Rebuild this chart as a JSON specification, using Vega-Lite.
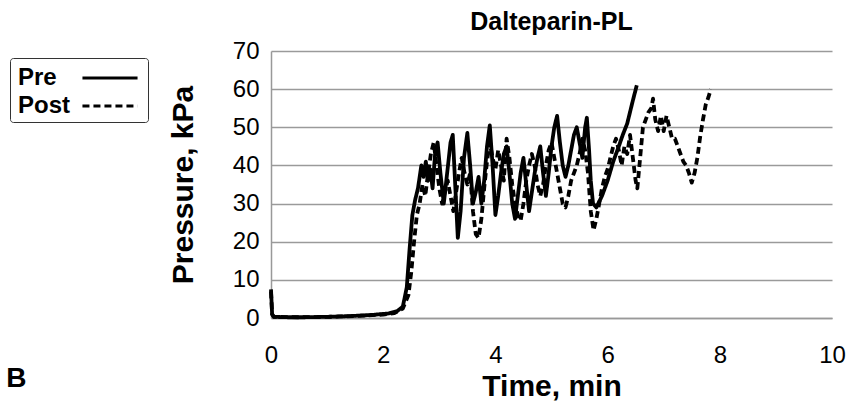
{
  "$schema": "https://vega.github.io/schema/vega-lite/v6.json",
  "autosize": {"type": "none"},
  "padding": {"left": 271, "top": 51, "right": 28, "bottom": 85},
  "width": 561,
  "height": 267,
  "background": "white",
  "config": {
    "font": "Liberation Sans",
    "view": {"stroke": null},
    "axis": {"labelFont": "Liberation Sans", "titleFont": "Liberation Sans", "labelColor": "#000", "titleColor": "#000"}
  },
  "title": {"text": "Dalteparin-PL", "font": "Liberation Sans", "fontSize": 25, "fontWeight": "bold", "color": "#000", "anchor": "middle", "offset": 4},
  "datasets": {
    "series": [
      {"t": 0, "p": 7.5, "s": "Pre"}, {"t": 0.02, "p": 1, "s": "Pre"}, {"t": 0.05, "p": 0.3, "s": "Pre"}, {"t": 0.3, "p": 0.2, "s": "Pre"}, {"t": 0.6, "p": 0.2, "s": "Pre"}, {"t": 1.0, "p": 0.3, "s": "Pre"}, {"t": 1.4, "p": 0.5, "s": "Pre"}, {"t": 1.8, "p": 0.8, "s": "Pre"}, {"t": 2.1, "p": 1.2, "s": "Pre"}, {"t": 2.25, "p": 1.8, "s": "Pre"}, {"t": 2.35, "p": 3, "s": "Pre"}, {"t": 2.42, "p": 8, "s": "Pre"}, {"t": 2.47, "p": 18, "s": "Pre"}, {"t": 2.52, "p": 27, "s": "Pre"}, {"t": 2.57, "p": 31, "s": "Pre"}, {"t": 2.62, "p": 34, "s": "Pre"}, {"t": 2.68, "p": 40, "s": "Pre"}, {"t": 2.72, "p": 37, "s": "Pre"}, {"t": 2.76, "p": 41, "s": "Pre"}, {"t": 2.8, "p": 36, "s": "Pre"}, {"t": 2.84, "p": 39, "s": "Pre"}, {"t": 2.88, "p": 34, "s": "Pre"}, {"t": 2.93, "p": 44, "s": "Pre"}, {"t": 2.97, "p": 46, "s": "Pre"}, {"t": 3.02, "p": 38, "s": "Pre"}, {"t": 3.08, "p": 30, "s": "Pre"}, {"t": 3.14, "p": 38, "s": "Pre"}, {"t": 3.2, "p": 46, "s": "Pre"}, {"t": 3.24, "p": 48, "s": "Pre"}, {"t": 3.28, "p": 36, "s": "Pre"}, {"t": 3.33, "p": 21, "s": "Pre"}, {"t": 3.38, "p": 28, "s": "Pre"}, {"t": 3.44, "p": 42, "s": "Pre"}, {"t": 3.5, "p": 48.5, "s": "Pre"}, {"t": 3.55, "p": 40, "s": "Pre"}, {"t": 3.6, "p": 30, "s": "Pre"}, {"t": 3.65, "p": 33, "s": "Pre"}, {"t": 3.7, "p": 37, "s": "Pre"}, {"t": 3.75, "p": 30, "s": "Pre"}, {"t": 3.8, "p": 36, "s": "Pre"}, {"t": 3.85, "p": 45, "s": "Pre"}, {"t": 3.9, "p": 50.5, "s": "Pre"}, {"t": 3.95, "p": 40, "s": "Pre"}, {"t": 4.0, "p": 27, "s": "Pre"}, {"t": 4.05, "p": 32, "s": "Pre"}, {"t": 4.1, "p": 38, "s": "Pre"}, {"t": 4.15, "p": 43, "s": "Pre"}, {"t": 4.2, "p": 45, "s": "Pre"}, {"t": 4.25, "p": 38, "s": "Pre"}, {"t": 4.3, "p": 30, "s": "Pre"}, {"t": 4.35, "p": 26, "s": "Pre"}, {"t": 4.4, "p": 32, "s": "Pre"}, {"t": 4.45, "p": 38, "s": "Pre"}, {"t": 4.5, "p": 42, "s": "Pre"}, {"t": 4.55, "p": 35, "s": "Pre"}, {"t": 4.6, "p": 28, "s": "Pre"}, {"t": 4.65, "p": 33, "s": "Pre"}, {"t": 4.7, "p": 38, "s": "Pre"}, {"t": 4.75, "p": 42, "s": "Pre"}, {"t": 4.8, "p": 45, "s": "Pre"}, {"t": 4.85, "p": 38, "s": "Pre"}, {"t": 4.9, "p": 32, "s": "Pre"}, {"t": 4.95, "p": 38, "s": "Pre"}, {"t": 5.0, "p": 45, "s": "Pre"}, {"t": 5.05, "p": 50, "s": "Pre"}, {"t": 5.1, "p": 53, "s": "Pre"}, {"t": 5.15, "p": 46, "s": "Pre"}, {"t": 5.2, "p": 40, "s": "Pre"}, {"t": 5.25, "p": 37, "s": "Pre"}, {"t": 5.3, "p": 40, "s": "Pre"}, {"t": 5.35, "p": 44, "s": "Pre"}, {"t": 5.4, "p": 48, "s": "Pre"}, {"t": 5.45, "p": 50, "s": "Pre"}, {"t": 5.5, "p": 46, "s": "Pre"}, {"t": 5.55, "p": 42, "s": "Pre"}, {"t": 5.6, "p": 50, "s": "Pre"}, {"t": 5.63, "p": 52.5, "s": "Pre"}, {"t": 5.67, "p": 44, "s": "Pre"}, {"t": 5.7, "p": 36, "s": "Pre"}, {"t": 5.74, "p": 30, "s": "Pre"}, {"t": 5.8, "p": 29, "s": "Pre"}, {"t": 5.9, "p": 32, "s": "Pre"}, {"t": 6.0, "p": 36, "s": "Pre"}, {"t": 6.1, "p": 41, "s": "Pre"}, {"t": 6.2, "p": 45, "s": "Pre"}, {"t": 6.27, "p": 48, "s": "Pre"}, {"t": 6.35, "p": 51, "s": "Pre"}, {"t": 6.4, "p": 54, "s": "Pre"}, {"t": 6.45, "p": 57, "s": "Pre"}, {"t": 6.52, "p": 61, "s": "Pre"},
      {"t": 0, "p": 7, "s": "Post"}, {"t": 0.02, "p": 1, "s": "Post"}, {"t": 0.05, "p": 0.3, "s": "Post"}, {"t": 0.5, "p": 0.2, "s": "Post"}, {"t": 1.0, "p": 0.3, "s": "Post"}, {"t": 1.5, "p": 0.5, "s": "Post"}, {"t": 2.0, "p": 0.9, "s": "Post"}, {"t": 2.2, "p": 1.3, "s": "Post"}, {"t": 2.35, "p": 2.5, "s": "Post"}, {"t": 2.45, "p": 6, "s": "Post"}, {"t": 2.5, "p": 12, "s": "Post"}, {"t": 2.55, "p": 20, "s": "Post"}, {"t": 2.6, "p": 27, "s": "Post"}, {"t": 2.65, "p": 30, "s": "Post"}, {"t": 2.7, "p": 35, "s": "Post"}, {"t": 2.75, "p": 32, "s": "Post"}, {"t": 2.8, "p": 38, "s": "Post"}, {"t": 2.85, "p": 43, "s": "Post"}, {"t": 2.9, "p": 46, "s": "Post"}, {"t": 2.95, "p": 40, "s": "Post"}, {"t": 3.0, "p": 34, "s": "Post"}, {"t": 3.05, "p": 30, "s": "Post"}, {"t": 3.1, "p": 33, "s": "Post"}, {"t": 3.15, "p": 36, "s": "Post"}, {"t": 3.2, "p": 32, "s": "Post"}, {"t": 3.25, "p": 28, "s": "Post"}, {"t": 3.3, "p": 33, "s": "Post"}, {"t": 3.35, "p": 38, "s": "Post"}, {"t": 3.4, "p": 42, "s": "Post"}, {"t": 3.45, "p": 38, "s": "Post"}, {"t": 3.5, "p": 35, "s": "Post"}, {"t": 3.55, "p": 38, "s": "Post"}, {"t": 3.6, "p": 28, "s": "Post"}, {"t": 3.65, "p": 22, "s": "Post"}, {"t": 3.7, "p": 21, "s": "Post"}, {"t": 3.75, "p": 26, "s": "Post"}, {"t": 3.8, "p": 34, "s": "Post"}, {"t": 3.85, "p": 41, "s": "Post"}, {"t": 3.9, "p": 46, "s": "Post"}, {"t": 3.95, "p": 42, "s": "Post"}, {"t": 4.0, "p": 39, "s": "Post"}, {"t": 4.05, "p": 44, "s": "Post"}, {"t": 4.1, "p": 40, "s": "Post"}, {"t": 4.15, "p": 36, "s": "Post"}, {"t": 4.2, "p": 47, "s": "Post"}, {"t": 4.25, "p": 42, "s": "Post"}, {"t": 4.3, "p": 35, "s": "Post"}, {"t": 4.35, "p": 30, "s": "Post"}, {"t": 4.4, "p": 27, "s": "Post"}, {"t": 4.45, "p": 25.5, "s": "Post"}, {"t": 4.5, "p": 30, "s": "Post"}, {"t": 4.55, "p": 36, "s": "Post"}, {"t": 4.6, "p": 40, "s": "Post"}, {"t": 4.65, "p": 43, "s": "Post"}, {"t": 4.7, "p": 40, "s": "Post"}, {"t": 4.75, "p": 35, "s": "Post"}, {"t": 4.8, "p": 32, "s": "Post"}, {"t": 4.85, "p": 35, "s": "Post"}, {"t": 4.9, "p": 40, "s": "Post"}, {"t": 4.95, "p": 44, "s": "Post"}, {"t": 5.0, "p": 46, "s": "Post"}, {"t": 5.05, "p": 42, "s": "Post"}, {"t": 5.1, "p": 38, "s": "Post"}, {"t": 5.15, "p": 34, "s": "Post"}, {"t": 5.2, "p": 30, "s": "Post"}, {"t": 5.25, "p": 29, "s": "Post"}, {"t": 5.3, "p": 32, "s": "Post"}, {"t": 5.35, "p": 36, "s": "Post"}, {"t": 5.4, "p": 38, "s": "Post"}, {"t": 5.45, "p": 40, "s": "Post"}, {"t": 5.5, "p": 43, "s": "Post"}, {"t": 5.55, "p": 47, "s": "Post"}, {"t": 5.6, "p": 44, "s": "Post"}, {"t": 5.65, "p": 38, "s": "Post"}, {"t": 5.7, "p": 28, "s": "Post"}, {"t": 5.75, "p": 23, "s": "Post"}, {"t": 5.8, "p": 26, "s": "Post"}, {"t": 5.85, "p": 30, "s": "Post"}, {"t": 5.9, "p": 34, "s": "Post"}, {"t": 5.95, "p": 37, "s": "Post"}, {"t": 6.0, "p": 39, "s": "Post"}, {"t": 6.05, "p": 42, "s": "Post"}, {"t": 6.1, "p": 45, "s": "Post"}, {"t": 6.15, "p": 47, "s": "Post"}, {"t": 6.2, "p": 44, "s": "Post"}, {"t": 6.25, "p": 40, "s": "Post"}, {"t": 6.3, "p": 45, "s": "Post"}, {"t": 6.35, "p": 43, "s": "Post"}, {"t": 6.4, "p": 48, "s": "Post"}, {"t": 6.45, "p": 42, "s": "Post"}, {"t": 6.5, "p": 36, "s": "Post"}, {"t": 6.53, "p": 34, "s": "Post"}, {"t": 6.58, "p": 42, "s": "Post"}, {"t": 6.63, "p": 50, "s": "Post"}, {"t": 6.68, "p": 52, "s": "Post"}, {"t": 6.73, "p": 54, "s": "Post"}, {"t": 6.78, "p": 55, "s": "Post"}, {"t": 6.81, "p": 57.5, "s": "Post"}, {"t": 6.85, "p": 52, "s": "Post"}, {"t": 6.9, "p": 49, "s": "Post"}, {"t": 6.95, "p": 53, "s": "Post"}, {"t": 7.0, "p": 49, "s": "Post"}, {"t": 7.05, "p": 53, "s": "Post"}, {"t": 7.1, "p": 50, "s": "Post"}, {"t": 7.15, "p": 47, "s": "Post"}, {"t": 7.2, "p": 47, "s": "Post"}, {"t": 7.25, "p": 45, "s": "Post"}, {"t": 7.3, "p": 43, "s": "Post"}, {"t": 7.35, "p": 41, "s": "Post"}, {"t": 7.4, "p": 40, "s": "Post"}, {"t": 7.45, "p": 38, "s": "Post"}, {"t": 7.5, "p": 35.5, "s": "Post"}, {"t": 7.55, "p": 38, "s": "Post"}, {"t": 7.6, "p": 42, "s": "Post"}, {"t": 7.65, "p": 47.5, "s": "Post"}, {"t": 7.7, "p": 52, "s": "Post"}, {"t": 7.75, "p": 56, "s": "Post"}, {"t": 7.8, "p": 58, "s": "Post"}, {"t": 7.84, "p": 60, "s": "Post"}
    ],
    "panel": [{"label": "B", "t": -4.72, "p": -16}]
  },
  "encoding": {
    "x": {"field": "t", "type": "quantitative", "scale": {"domain": [0, 10], "nice": false, "zero": false},
      "axis": {"title": "Time, min", "values": [0, 2, 4, 6, 8, 10], "format": "d", "labelOverlap": false, "labelFlush": false, "grid": false, "ticks": false, "domainColor": "#999", "domainWidth": 1.5,
        "labelFontSize": 24, "labelPadding": 25, "titleFontSize": 30, "titleFontWeight": "bold", "titlePadding": 4}},
    "y": {"field": "p", "type": "quantitative", "scale": {"domain": [0, 70], "nice": false, "zero": false},
      "axis": {"title": "Pressure, kPa", "values": [0, 10, 20, 30, 40, 50, 60, 70], "format": "d", "labelOverlap": false, "grid": true, "gridColor": "#9a9a9a", "gridWidth": 1.5, "ticks": false, "domainColor": "#999", "domainWidth": 1.5,
        "labelFontSize": 24, "labelPadding": 12, "titleFontSize": 30, "titleFontWeight": "bold", "titlePadding": 34}}
  },
  "layer": [
    {
      "data": {"name": "series"},
      "mark": {"type": "line", "color": "#000", "strokeWidth": 3.8, "strokeJoin": "round", "strokeCap": "butt"},
      "encoding": {
        "strokeDash": {"field": "s", "type": "nominal", "scale": {"domain": ["Pre", "Post"], "range": [[1, 0], [7, 4]]},
          "legend": {"title": null, "orient": "none", "legendX": -261, "legendY": 7, "symbolType": "M-1.9,0H1.9", "symbolSize": 841, "symbolStrokeWidth": 3, "symbolStrokeColor": "#000", "symbolFillColor": "transparent",
            "labelFontSize": 24, "labelFontWeight": "bold", "labelColor": "#000", "labelAlign": "left", "labelOffset": -108, "symbolOffset": 80, "rowPadding": -2,
            "strokeColor": "#333", "padding": 4, "cornerRadius": 3}}
      }
    },
    {
      "data": {"name": "panel"},
      "mark": {"type": "text", "font": "Liberation Sans", "fontSize": 28, "fontWeight": "bold", "color": "#000", "align": "left", "baseline": "middle"},
      "encoding": {
        "text": {"field": "label"}
      }
    }
  ]
}
